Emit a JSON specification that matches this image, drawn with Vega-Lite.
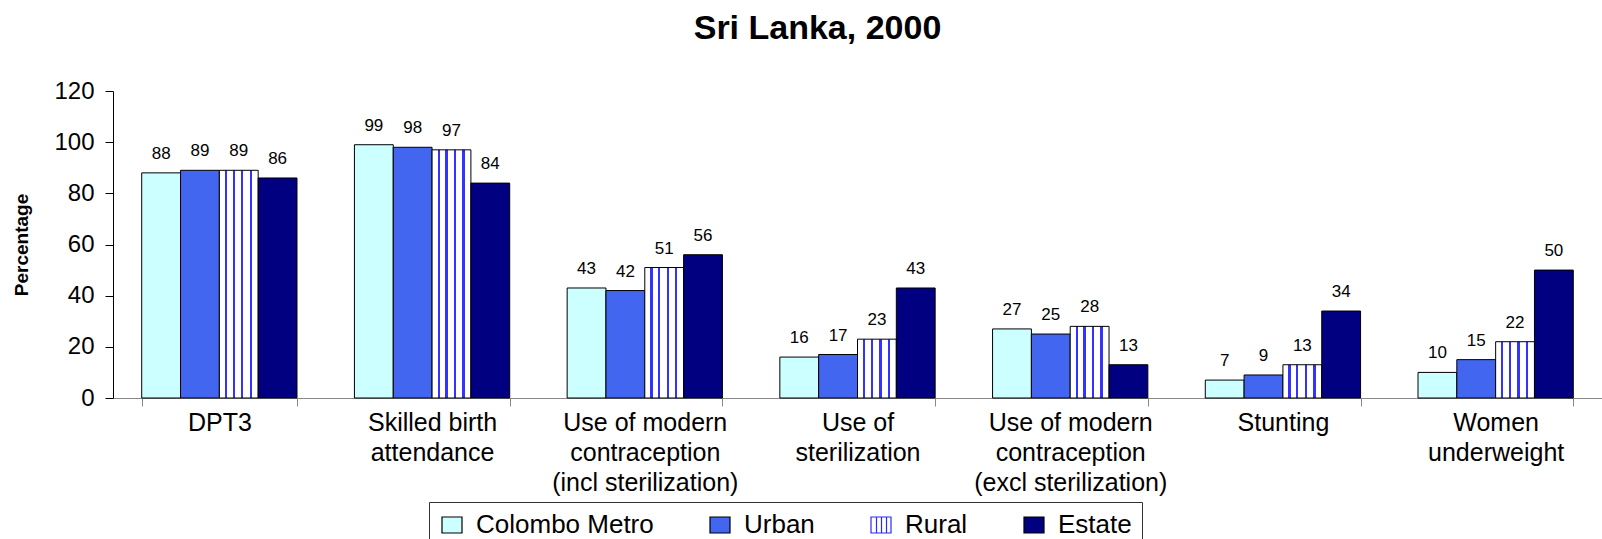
{
  "$schema": "https://vega.github.io/schema/vega-lite/v6.json",
  "autosize": {"type": "none"},
  "width": 1489,
  "height": 307,
  "padding": {"left": 113, "top": 91, "right": 0, "bottom": 141},
  "background": "white",
  "title": {"text": "Sri Lanka, 2000", "fontSize": 34, "font": "Liberation Sans", "fontWeight": "bold", "anchor": "middle", "dx": -40, "offset": 33, "color": "black"},
  "data": {"values": [
    {"cat": "DPT3", "region": "Colombo Metro", "value": 88},
    {"cat": "DPT3", "region": "Urban", "value": 89},
    {"cat": "DPT3", "region": "Rural", "value": 89},
    {"cat": "DPT3", "region": "Estate", "value": 86},
    {"cat": "Skilled birth|attendance", "region": "Colombo Metro", "value": 99},
    {"cat": "Skilled birth|attendance", "region": "Urban", "value": 98},
    {"cat": "Skilled birth|attendance", "region": "Rural", "value": 97},
    {"cat": "Skilled birth|attendance", "region": "Estate", "value": 84},
    {"cat": "Use of modern|contraception|(incl sterilization)", "region": "Colombo Metro", "value": 43},
    {"cat": "Use of modern|contraception|(incl sterilization)", "region": "Urban", "value": 42},
    {"cat": "Use of modern|contraception|(incl sterilization)", "region": "Rural", "value": 51},
    {"cat": "Use of modern|contraception|(incl sterilization)", "region": "Estate", "value": 56},
    {"cat": "Use of|sterilization", "region": "Colombo Metro", "value": 16},
    {"cat": "Use of|sterilization", "region": "Urban", "value": 17},
    {"cat": "Use of|sterilization", "region": "Rural", "value": 23},
    {"cat": "Use of|sterilization", "region": "Estate", "value": 43},
    {"cat": "Use of modern|contraception|(excl sterilization)", "region": "Colombo Metro", "value": 27},
    {"cat": "Use of modern|contraception|(excl sterilization)", "region": "Urban", "value": 25},
    {"cat": "Use of modern|contraception|(excl sterilization)", "region": "Rural", "value": 28},
    {"cat": "Use of modern|contraception|(excl sterilization)", "region": "Estate", "value": 13},
    {"cat": "Stunting", "region": "Colombo Metro", "value": 7},
    {"cat": "Stunting", "region": "Urban", "value": 9},
    {"cat": "Stunting", "region": "Rural", "value": 13},
    {"cat": "Stunting", "region": "Estate", "value": 34},
    {"cat": "Women|underweight", "region": "Colombo Metro", "value": 10},
    {"cat": "Women|underweight", "region": "Urban", "value": 15},
    {"cat": "Women|underweight", "region": "Rural", "value": 22},
    {"cat": "Women|underweight", "region": "Estate", "value": 50}
  ]},
  "encoding": {
    "x": {"field": "cat", "type": "nominal", "sort": null,
      "scale": {"paddingInner": 0.27, "paddingOuter": 0.135},
      "axis": {"title": null, "labelAngle": 0, "labelFont": "Liberation Sans", "labelFontSize": 25, "labelLineHeight": 30, "labelColor": "black", "labelExpr": "split(datum.label, '|')", "labelLimit": 400, "tickBand": "extent", "tickSize": 8, "tickColor": "#888888", "domainColor": "#888888", "labelPadding": 4, "labelBaseline": "top"}},
    "xOffset": {"field": "region", "type": "nominal", "sort": ["Colombo Metro", "Urban", "Rural", "Estate"], "scale": {"paddingInner": 0, "paddingOuter": 0}},
    "y": {"field": "value", "type": "quantitative",
      "scale": {"domain": [0, 120], "nice": false},
      "axis": {"title": "Percentage", "titleFont": "Liberation Sans", "titleFontSize": 19, "titleFontWeight": "bold", "titleColor": "black", "titlePadding": 22, "labelFont": "Liberation Sans", "labelFontSize": 24, "labelColor": "black", "grid": false, "domainColor": "black", "tickColor": "black", "tickSize": 8, "labelPadding": 11, "values": [0, 20, 40, 60, 80, 100, 120]}}
  },
  "layer": [
    {
      "mark": {"type": "bar", "stroke": "black", "strokeWidth": 1},
      "encoding": {
        "fill": {
          "condition": {"test": "datum.region === 'Rural'", "value": {"gradient": "linear", "x1": 0, "y1": 0, "x2": 1, "y2": 0, "stops": [
                {"offset": 0, "color": "#ffffff"}, {"offset": 0.14, "color": "#ffffff"},
                {"offset": 0.14, "color": "#3333ff"}, {"offset": 0.2, "color": "#3333ff"},
                {"offset": 0.2, "color": "#ffffff"}, {"offset": 0.34, "color": "#ffffff"},
                {"offset": 0.34, "color": "#3333ff"}, {"offset": 0.4, "color": "#3333ff"},
                {"offset": 0.4, "color": "#ffffff"}, {"offset": 0.56, "color": "#ffffff"},
                {"offset": 0.56, "color": "#3333ff"}, {"offset": 0.62, "color": "#3333ff"},
                {"offset": 0.62, "color": "#ffffff"}, {"offset": 0.78, "color": "#ffffff"},
                {"offset": 0.78, "color": "#3333ff"}, {"offset": 0.84, "color": "#3333ff"},
                {"offset": 0.84, "color": "#ffffff"}, {"offset": 1, "color": "#ffffff"}]}},
          "field": "region", "type": "nominal",
          "scale": {"domain": ["Colombo Metro", "Urban", "Rural", "Estate"], "range": ["#ccffff", "#4266f0", "#ffffff", "#000080"]},
          "legend": {"title": null, "orient": "none", "legendX": 316, "legendY": 411, "direction": "horizontal", "strokeColor": "#333333", "padding": 10, "labelFont": "Liberation Sans", "labelFontSize": 26, "labelLimit": 400, "labelColor": "black", "symbolType": "M-1,-0.8H1V0.8H-1Z", "symbolSize": 400, "symbolStrokeColor": "black", "symbolStrokeWidth": 1, "columnPadding": 53, "labelOffset": 11,
            "encode": {"symbols": {"update": {
              "stroke": [{"test": "datum.value === 'Rural'", "value": "#2a2aff"}, {"value": "black"}],
              "strokeWidth": {"value": 1.2},
              "shape": [{"test": "datum.value === 'Rural'", "value": "M-1,-0.8H1V0.8H-1Z M-0.45,-0.8V0.8 M0.05,-0.8V0.8 M0.55,-0.8V0.8"}, {"value": "M-1,-0.8H1V0.8H-1Z"}]
            }}}}
        }
      }
    },
    {
      "mark": {"type": "text", "fontSize": 17, "font": "Liberation Sans", "color": "black", "baseline": "middle", "dy": -19},
      "encoding": {"text": {"field": "value", "type": "quantitative"}}
    }
  ],
  "config": {"view": {"stroke": null}}
}
